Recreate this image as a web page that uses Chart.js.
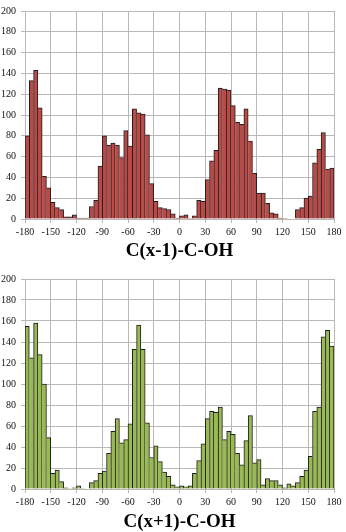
<!DOCTYPE html>
<html>
<head>
<meta charset="utf-8">
<script src="https://cdn.jsdelivr.net/npm/chart.js@4.4.1/dist/chart.umd.min.js"></script>
<style>
  html, body { margin: 0; padding: 0; background: #fff; }
  body { width: 346px; height: 532px; position: relative; overflow: hidden; }
  .box { position: absolute; left: 0; width: 346px; }
  #boxTop { top: 0; height: 264px; }
  #boxBottom { top: 268px; height: 268px; }
</style>
</head>
<body>
<div class="box" id="boxTop"><canvas id="chartTop"></canvas></div>
<div class="box" id="boxBottom"><canvas id="chartBottom"></canvas></div>
<script>
// histogram bins, 5 degrees wide, from -180 to 180
const binWidth = 5;
const binCenters = [];
for (let a = -180; a < 180; a += binWidth) binCenters.push(a + binWidth / 2);

// C(x-1)-C-OH counts (one row = 30 degrees)
const countsMinus = [
  80, 133, 143, 107, 41, 30,
  16, 11, 9, 2, 2, 4,
  1, 1, 1, 12, 18, 51,
  80, 71, 73, 71, 59, 85,
  70, 106, 102, 101, 81, 34,
  17, 11, 10, 9, 5, 1,
  3, 4, 0, 3, 18, 17,
  38, 56, 66, 126, 125, 124,
  109, 93, 91, 106, 75, 44,
  25, 25, 15, 6, 5, 1,
  0, 0, 0, 9, 11, 20,
  22, 54, 67, 83, 48, 49
];

// C(x+1)-C-OH counts
const countsPlus = [
  155, 125, 158, 128, 100, 49,
  15, 18, 7, 1, 0, 1,
  3, 0, 0, 6, 8, 15,
  17, 34, 55, 67, 44, 47,
  62, 133, 156, 133, 63, 30,
  41, 26, 16, 12, 4, 2,
  3, 2, 3, 15, 27, 43,
  67, 74, 73, 78, 47, 55,
  52, 34, 23, 46, 70, 25,
  28, 4, 10, 8, 8, 4,
  1, 5, 3, 6, 12, 18,
  31, 74, 78, 145, 151, 136
];

const titleMinus = 'C(x-1)-C-OH';
const titlePlus = 'C(x+1)-C-OH';

const gridColor = '#b8b8b8';
const tickFont = { family: 'Liberation Serif', size: 10 };

// outline only once between two neighbouring bars (the taller one draws it)
function edgeWidths(counts) {
  return ctx => {
    const i = ctx.dataIndex;
    const v = counts[i];
    const prev = i > 0 ? counts[i - 1] : -1;
    const next = i < counts.length - 1 ? counts[i + 1] : -1;
    return { top: 1, bottom: 0, left: prev <= v ? 1 : 0, right: next < v ? 1 : 0 };
  };
}

function makeHistogram(canvasId, counts, fill, title, axisHeight, titlePad, topPad) {
  const points = binCenters.map((c, i) => ({ x: c, y: counts[i] }));
  return new Chart(document.getElementById(canvasId), {
    type: 'bar',
    data: {
      datasets: [{
        data: points,
        backgroundColor: fill,
        borderColor: '#1c1c1c',
        borderWidth: edgeWidths(counts),
        borderSkipped: false,
        barPercentage: 1,
        categoryPercentage: 1
      }]
    },
    options: {
      responsive: true,
      maintainAspectRatio: false,
      animation: false,
      layout: { padding: { top: topPad, right: 12, left: 0, bottom: 0 } },
      plugins: { legend: { display: false }, tooltip: { enabled: false } },
      scales: {
        x: {
          type: 'linear',
          min: -180, max: 180,
          offset: false,
          grid: { offset: false, color: gridColor, tickLength: 4 },
          border: { color: gridColor },
          ticks: { stepSize: 30, font: tickFont, color: '#111', padding: 3, maxRotation: 0 },
          title: {
            display: true,
            text: title,
            font: { family: 'Liberation Serif', size: 19, weight: 'bold' },
            color: '#000',
            padding: { top: 0, bottom: titlePad }
          },
          afterFit: s => { s.height = axisHeight; }
        },
        y: {
          min: 0, max: 200,
          grid: { color: gridColor, tickLength: 4 },
          border: { color: gridColor },
          ticks: { stepSize: 20, font: tickFont, color: '#111', padding: 5 },
          afterFit: s => { s.width = 25; }
        }
      }
    }
  });
}

makeHistogram('chartTop', countsMinus, '#b84a48', titleMinus, 45, 2, 6);
makeHistogram('chartBottom', countsPlus, '#99b955', titlePlus, 47, 3, 6.3);
</script>
</body>
</html>
